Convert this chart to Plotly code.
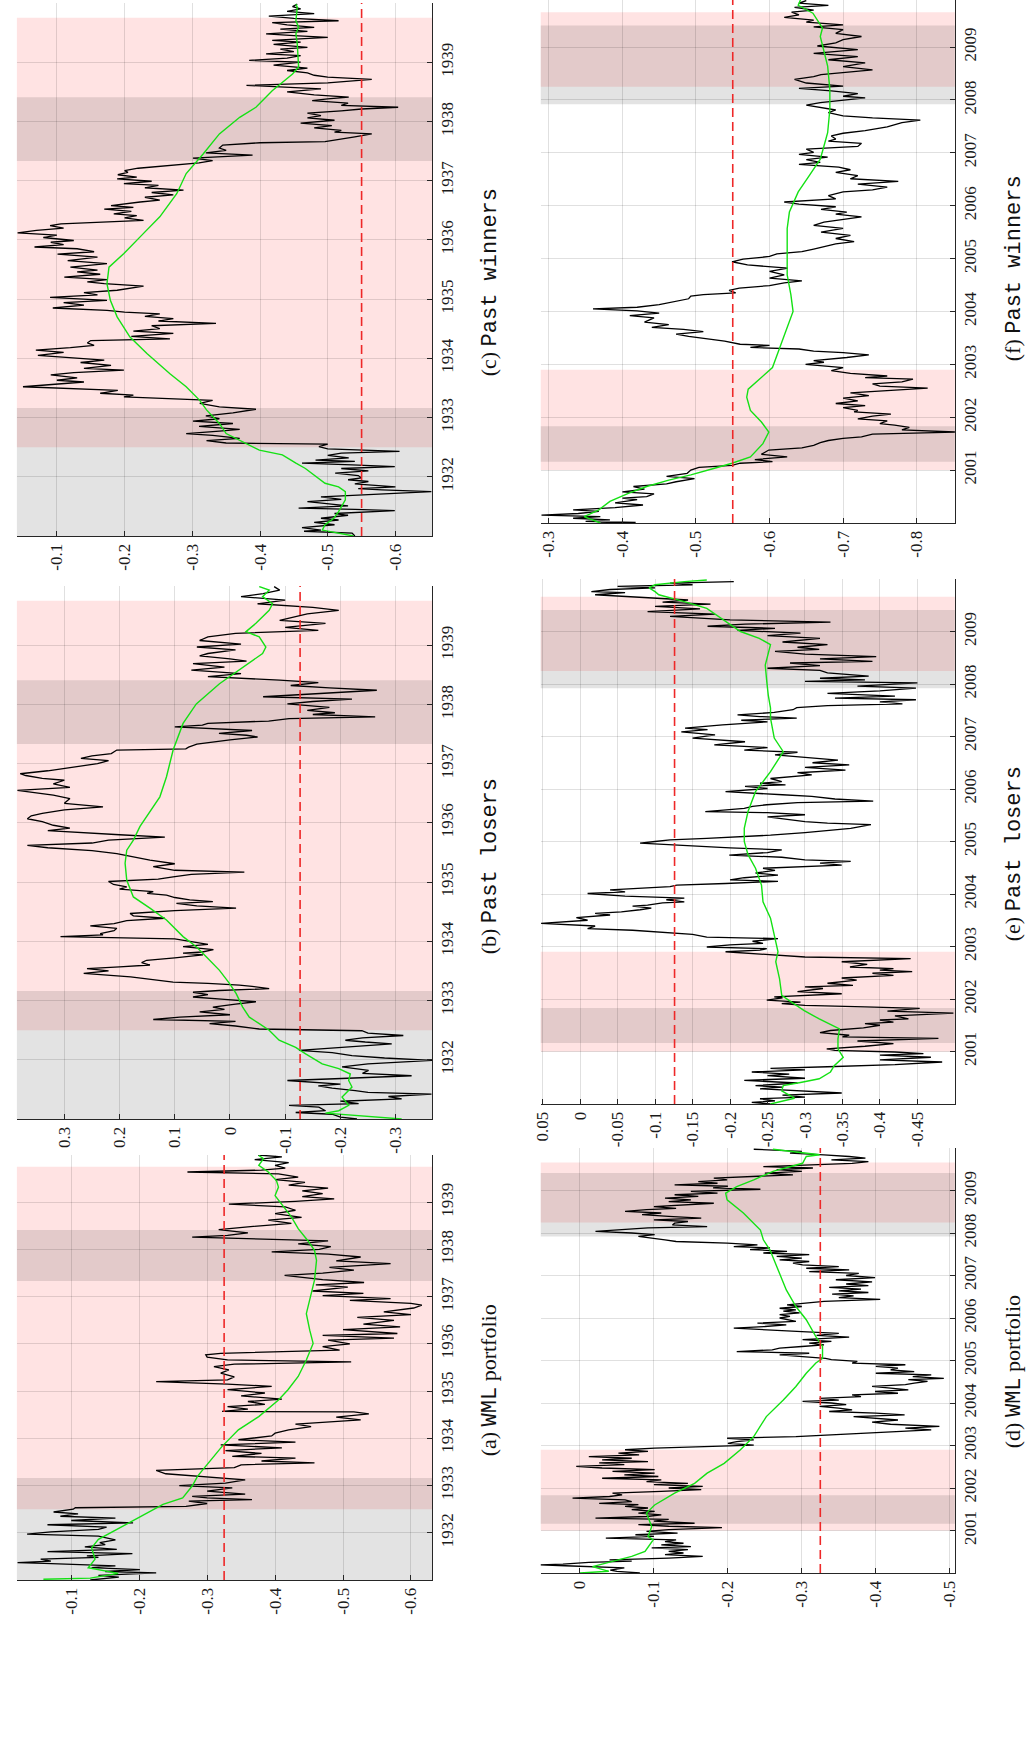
import plotly.graph_objects as go

# ---------------- DATA ----------------
# (year, value) pairs
A_BLACK = [(1931.00,-0.128),(1931.06,-0.170),(1931.10,-0.140),(1931.15,-0.225),(1931.18,-0.150),(1931.22,-0.201),
(1931.26,-0.130),(1931.30,-0.165),(1931.35,-0.060),(1931.37,-0.021),(1931.40,-0.070),(1931.44,-0.055),(1931.48,-0.140),
(1931.51,-0.123),(1931.56,-0.190),(1931.60,-0.065),(1931.65,-0.167),(1931.70,-0.120),(1931.75,-0.150),(1931.79,-0.142),
(1931.85,-0.165),(1931.93,-0.140),(1931.97,-0.035),(1932.02,-0.070),(1932.07,-0.140),(1932.12,-0.152),(1932.17,-0.065),
(1932.21,-0.191),(1932.26,-0.100),(1932.31,-0.165),(1932.35,-0.084),(1932.40,-0.110),(1932.44,-0.074),(1932.50,-0.103),
(1932.53,-0.106),(1932.56,-0.269),(1932.62,-0.300),(1932.67,-0.273),(1932.70,-0.366),(1932.74,-0.300),(1932.77,-0.278),
(1932.82,-0.356),(1932.88,-0.300),(1932.95,-0.337),(1933.00,-0.259),(1933.05,-0.327),(1933.12,-0.356),(1933.18,-0.300),
(1933.25,-0.239),(1933.32,-0.225),(1933.38,-0.340),(1933.44,-0.350),(1933.48,-0.458),(1933.52,-0.380),(1933.58,-0.430),
(1933.62,-0.337),(1933.68,-0.380),(1933.74,-0.327),(1933.80,-0.410),(1933.86,-0.320),(1933.92,-0.430),(1933.97,-0.346),
(1934.05,-0.395),(1934.11,-0.400),(1934.18,-0.420),(1934.25,-0.453),(1934.30,-0.430),(1934.39,-0.526),(1934.45,-0.490),
(1934.52,-0.538),(1934.56,-0.516),(1934.57,-0.322),(1934.62,-0.360),(1934.67,-0.330),(1934.72,-0.385),(1934.78,-0.360),
(1934.83,-0.410),(1934.90,-0.350),(1934.96,-0.385),(1935.03,-0.330),(1935.10,-0.395),(1935.15,-0.330),(1935.20,-0.225),
(1935.24,-0.330),(1935.30,-0.340),(1935.38,-0.320),(1935.45,-0.332),(1935.52,-0.310),(1935.57,-0.340),(1935.62,-0.512),
(1935.66,-0.330),(1935.72,-0.300),(1935.77,-0.298),(1935.80,-0.320),(1935.87,-0.495),(1935.94,-0.470),(1936.00,-0.510),
(1936.08,-0.478),(1936.12,-0.575),(1936.18,-0.470),(1936.22,-0.580),(1936.30,-0.500),(1936.36,-0.584),(1936.42,-0.530),
(1936.50,-0.575),(1936.56,-0.521),(1936.62,-0.600),(1936.68,-0.560),(1936.76,-0.604),(1936.82,-0.616),(1936.86,-0.600),
(1936.92,-0.510),(1936.96,-0.570),(1937.02,-0.470),(1937.07,-0.530),(1937.12,-0.455),(1937.20,-0.507),(1937.25,-0.460),
(1937.30,-0.531),(1937.36,-0.470),(1937.45,-0.414),(1937.50,-0.470),(1937.56,-0.516),(1937.62,-0.480),(1937.70,-0.570),
(1937.76,-0.490),(1937.84,-0.526),(1937.90,-0.478),(1937.95,-0.395),(1938.00,-0.465),(1938.06,-0.482),(1938.12,-0.434),
(1938.18,-0.478),(1938.26,-0.278),(1938.30,-0.330),(1938.35,-0.360),(1938.42,-0.317),(1938.48,-0.360),(1938.55,-0.424),
(1938.62,-0.390),(1938.68,-0.439),(1938.76,-0.400),(1938.83,-0.430),(1938.90,-0.415),(1938.96,-0.332),(1939.02,-0.430),
(1939.07,-0.487),(1939.12,-0.440),(1939.18,-0.470),(1939.24,-0.440),(1939.30,-0.478),(1939.36,-0.420),(1939.42,-0.444),
(1939.48,-0.400),(1939.53,-0.434),(1939.60,-0.405),(1939.64,-0.271),(1939.68,-0.380),(1939.72,-0.415),(1939.78,-0.400),
(1939.84,-0.420),(1939.90,-0.370),(1939.96,-0.410),(1940.00,-0.375)]
A_GREEN = [(1931.015,-0.059),(1931.04,-0.128),(1931.14,-0.169),(1931.26,-0.125),(1931.44,-0.135),(1931.68,-0.130),
(1931.86,-0.140),(1932.07,-0.167),(1932.32,-0.201),(1932.60,-0.235),(1932.74,-0.264),(1932.99,-0.278),(1933.20,-0.286),
(1933.41,-0.298),(1933.83,-0.322),(1934.18,-0.346),(1934.46,-0.376),(1934.81,-0.405),(1935.03,-0.419),(1935.31,-0.434),
(1935.66,-0.446),(1936.01,-0.456),(1936.29,-0.451),(1936.64,-0.446),(1936.93,-0.451),(1937.35,-0.458),(1937.77,-0.461),
(1937.98,-0.458),(1938.19,-0.448),(1938.44,-0.434),(1938.69,-0.424),(1939.04,-0.405),(1939.14,-0.400),(1939.32,-0.405),
(1939.46,-0.402),(1939.64,-0.390),(1939.78,-0.376),(1939.92,-0.383),(1939.99,-0.376)]

B_BLACK = [(1931.00,-0.230),(1931.03,-0.200),(1931.08,-0.185),(1931.11,-0.119),(1931.14,-0.173),(1931.20,-0.161),
(1931.23,-0.107),(1931.26,-0.233),(1931.30,-0.200),(1931.34,-0.311),(1931.38,-0.287),(1931.42,-0.365),(1931.45,-0.250),
(1931.48,-0.227),(1931.52,-0.185),(1931.56,-0.160),(1931.59,-0.200),(1931.65,-0.104),(1931.68,-0.190),(1931.73,-0.329),
(1931.77,-0.240),(1931.82,-0.251),(1931.88,-0.203),(1931.93,-0.250),(1931.99,-0.368),(1932.03,-0.280),(1932.07,-0.221),
(1932.12,-0.185),(1932.16,-0.125),(1932.20,-0.180),(1932.27,-0.293),(1932.30,-0.245),(1932.33,-0.209),(1932.37,-0.240),
(1932.41,-0.314),(1932.45,-0.250),(1932.49,-0.239),(1932.52,-0.053),(1932.57,-0.010),(1932.61,0.037),(1932.65,-0.010),
(1932.68,0.139),(1932.72,0.091),(1932.76,0.000),(1932.81,0.055),(1932.85,0.010),(1932.89,0.031),(1932.94,-0.010),
(1932.98,-0.047),(1933.02,0.010),(1933.06,0.067),(1933.10,0.040),(1933.14,0.067),(1933.17,0.020),(1933.20,-0.071),
(1933.24,-0.040),(1933.26,-0.017),(1933.29,0.040),(1933.31,0.103),(1933.40,0.180),(1933.46,0.265),(1933.50,0.220),
(1933.54,0.259),(1933.57,0.200),(1933.60,0.145),(1933.64,0.160),(1933.68,0.151),(1933.72,0.100),(1933.77,0.049),
(1933.80,0.085),(1933.82,0.050),(1933.86,0.030),(1933.91,0.085),(1933.95,0.040),(1933.99,0.067),(1934.04,0.100),
(1934.08,0.307),(1934.11,0.230),(1934.13,0.235),(1934.18,0.210),(1934.22,0.205),(1934.26,0.253),(1934.30,0.210),
(1934.35,0.187),(1934.39,0.118),(1934.43,0.175),(1934.47,0.181),(1934.52,0.100),(1934.56,-0.011),(1934.60,0.060),
(1934.64,0.097),(1934.67,0.031),(1934.70,0.073),(1934.74,0.100),(1934.78,0.115),(1934.81,0.150),(1934.84,0.139),
(1934.88,0.200),(1934.92,0.187),(1934.96,0.211),(1935.01,0.220),(1935.05,0.130),(1935.09,0.103),(1935.13,0.070),
(1935.17,-0.026),(1935.20,0.100),(1935.26,0.139),(1935.31,0.100),(1935.37,0.145),(1935.42,0.170),(1935.48,0.205),
(1935.53,0.250),(1935.58,0.330),(1935.62,0.367),(1935.66,0.250),(1935.71,0.220),(1935.74,0.150),(1935.76,0.118),
(1935.80,0.200),(1935.87,0.330),(1935.91,0.290),(1935.96,0.320),(1936.02,0.340),(1936.07,0.367),(1936.12,0.360),
(1936.16,0.340),(1936.22,0.300),(1936.27,0.230),(1936.33,0.300),(1936.41,0.290),(1936.47,0.320),(1936.55,0.385),
(1936.60,0.290),(1936.66,0.320),(1936.72,0.300),(1936.75,0.340),(1936.80,0.370),(1936.83,0.380),(1936.88,0.330),
(1936.92,0.300),(1936.96,0.270),(1937.00,0.240),(1937.05,0.220),(1937.09,0.270),(1937.13,0.250),(1937.17,0.215),
(1937.23,0.205),(1937.25,0.080),(1937.28,0.075),(1937.33,0.060),(1937.40,0.000),(1937.45,-0.050),(1937.48,-0.030),
(1937.51,0.020),(1937.56,-0.040),(1937.62,0.100),(1937.65,0.050),(1937.68,0.040),(1937.72,-0.070),(1937.76,-0.107),
(1937.79,-0.263),(1937.83,-0.150),(1937.86,-0.190),(1937.90,-0.140),(1937.95,-0.180),(1938.01,-0.104),(1938.05,-0.150),
(1938.09,-0.221),(1938.13,-0.060),(1938.17,-0.140),(1938.21,-0.200),(1938.24,-0.266),(1938.28,-0.180),(1938.32,-0.110),
(1938.37,-0.160),(1938.41,-0.090),(1938.47,0.040),(1938.52,-0.020),(1938.58,0.070),(1938.63,0.010),(1938.69,0.067),
(1938.73,-0.030),(1938.77,0.000),(1938.82,0.055),(1938.86,0.040),(1938.92,-0.010),(1938.97,0.060),(1939.02,-0.020),
(1939.08,0.055),(1939.14,0.040),(1939.20,-0.010),(1939.25,-0.160),(1939.30,-0.100),(1939.37,-0.173),(1939.42,-0.090),
(1939.48,-0.120),(1939.53,-0.140),(1939.59,-0.197),(1939.64,-0.150),(1939.70,-0.050),(1939.76,-0.100),(1939.82,-0.020),
(1939.87,-0.060),(1939.93,-0.090),(1939.99,-0.080)]
B_GREEN = [(1931.00,-0.311),(1931.06,-0.233),(1931.10,-0.173),(1931.14,-0.197),(1931.23,-0.215),(1931.37,-0.203),
(1931.54,-0.221),(1931.65,-0.215),(1931.76,-0.218),(1931.85,-0.197),(1931.93,-0.167),(1932.10,-0.137),(1932.21,-0.119),
(1932.33,-0.089),(1932.50,-0.071),(1932.61,-0.053),(1932.72,-0.035),(1932.89,-0.023),(1933.12,-0.011),(1933.29,0.001),
(1933.51,0.019),(1933.74,0.043),(1933.91,0.061),(1934.08,0.085),(1934.36,0.115),(1934.56,0.145),(1934.75,0.175),
(1935.03,0.187),(1935.32,0.190),(1935.54,0.187),(1935.71,0.175),(1935.94,0.163),(1936.10,0.151),(1936.44,0.127),
(1936.78,0.115),(1937.23,0.103),(1937.68,0.085),(1938.01,0.061),(1938.35,0.019),(1938.58,-0.017),(1938.86,-0.059),
(1938.97,-0.065),(1939.14,-0.053),(1939.23,-0.029),(1939.37,-0.047),(1939.59,-0.071),(1939.70,-0.077),(1939.82,-0.059),
(1939.93,-0.071),(1939.99,-0.053)]

C_BLACK = [(1931.00,-0.540),(1931.05,-0.536),(1931.08,-0.465),(1931.10,-0.490),(1931.14,-0.462),(1931.19,-0.510),
(1931.23,-0.480),(1931.27,-0.516),(1931.30,-0.490),(1931.35,-0.530),(1931.38,-0.510),(1931.43,-0.599),(1931.45,-0.540),
(1931.47,-0.457),(1931.51,-0.530),(1931.55,-0.500),(1931.58,-0.470),(1931.62,-0.520),(1931.66,-0.490),(1931.70,-0.560),
(1931.75,-0.653),(1931.78,-0.580),(1931.80,-0.545),(1931.83,-0.600),(1931.88,-0.540),(1931.92,-0.560),(1931.95,-0.530),
(1931.98,-0.550),(1932.02,-0.545),(1932.06,-0.511),(1932.10,-0.560),(1932.14,-0.520),(1932.17,-0.599),(1932.20,-0.536),
(1932.23,-0.462),(1932.26,-0.540),(1932.28,-0.482),(1932.32,-0.531),(1932.36,-0.500),(1932.40,-0.520),(1932.43,-0.606),
(1932.47,-0.500),(1932.51,-0.487),(1932.55,-0.500),(1932.57,-0.350),(1932.61,-0.321),(1932.65,-0.370),(1932.70,-0.330),
(1932.73,-0.291),(1932.77,-0.340),(1932.80,-0.370),(1932.85,-0.310),(1932.90,-0.360),(1932.94,-0.301),(1932.98,-0.340),
(1933.03,-0.320),(1933.08,-0.360),(1933.14,-0.394),(1933.18,-0.340),(1933.24,-0.311),(1933.29,-0.330),(1933.35,-0.199),
(1933.38,-0.213),(1933.41,-0.164),(1933.46,-0.190),(1933.52,-0.050),(1933.56,-0.100),(1933.60,-0.140),(1933.63,-0.100),
(1933.67,-0.130),(1933.72,-0.091),(1933.76,-0.125),(1933.80,-0.199),(1933.83,-0.140),(1933.88,-0.180),(1933.93,-0.135),
(1933.97,-0.170),(1934.01,-0.120),(1934.05,-0.072),(1934.10,-0.110),(1934.14,-0.069),(1934.18,-0.120),(1934.22,-0.155),
(1934.26,-0.145),(1934.30,-0.150),(1934.33,-0.267),(1934.37,-0.210),(1934.42,-0.272),(1934.46,-0.213),(1934.50,-0.252),
(1934.55,-0.240),(1934.59,-0.335),(1934.63,-0.250),(1934.67,-0.272),(1934.71,-0.230),(1934.75,-0.252),(1934.78,-0.200),
(1934.81,-0.174),(1934.85,-0.094),(1934.90,-0.140),(1934.94,-0.110),(1934.98,-0.174),(1935.03,-0.090),(1935.07,-0.160),
(1935.11,-0.140),(1935.15,-0.189),(1935.22,-0.228),(1935.26,-0.170),(1935.29,-0.145),(1935.33,-0.174),(1935.37,-0.111),
(1935.42,-0.164),(1935.46,-0.130),(1935.49,-0.160),(1935.54,-0.120),(1935.60,-0.174),(1935.65,-0.116),(1935.71,-0.160),
(1935.76,-0.101),(1935.80,-0.155),(1935.85,-0.130),(1935.88,-0.067),(1935.92,-0.110),(1935.96,-0.091),(1935.99,-0.125),
(1936.04,-0.080),(1936.08,-0.100),(1936.12,-0.042),(1936.16,-0.070),(1936.20,-0.110),(1936.24,-0.090),(1936.27,-0.106),
(1936.30,-0.160),(1936.33,-0.228),(1936.37,-0.200),(1936.41,-0.218),(1936.44,-0.184),(1936.48,-0.210),(1936.52,-0.170),
(1936.55,-0.213),(1936.58,-0.180),(1936.61,-0.199),(1936.64,-0.223),(1936.67,-0.252),(1936.72,-0.230),(1936.76,-0.272),
(1936.80,-0.240),(1936.84,-0.287),(1936.88,-0.230),(1936.92,-0.250),(1936.95,-0.199),(1936.99,-0.240),(1937.03,-0.189),
(1937.06,-0.218),(1937.10,-0.190),(1937.14,-0.205),(1937.17,-0.200),(1937.21,-0.220),(1937.26,-0.267),(1937.30,-0.310),
(1937.34,-0.330),(1937.38,-0.301),(1937.43,-0.389),(1937.47,-0.320),(1937.51,-0.350),(1937.55,-0.340),(1937.60,-0.345),
(1937.64,-0.400),(1937.66,-0.496),(1937.70,-0.520),(1937.74,-0.540),(1937.79,-0.565),(1937.82,-0.510),(1937.85,-0.520),
(1937.89,-0.480),(1937.93,-0.506),(1937.97,-0.460),(1938.02,-0.510),(1938.06,-0.470),(1938.10,-0.490),(1938.14,-0.470),
(1938.18,-0.520),(1938.21,-0.550),(1938.24,-0.604),(1938.27,-0.520),(1938.31,-0.530),(1938.35,-0.477),(1938.38,-0.500),
(1938.41,-0.531),(1938.45,-0.480),(1938.50,-0.440),(1938.55,-0.490),(1938.58,-0.428),(1938.61,-0.380),(1938.65,-0.500),
(1938.69,-0.550),(1938.71,-0.565),(1938.75,-0.500),(1938.78,-0.480),(1938.82,-0.470),(1938.86,-0.440),(1938.90,-0.470),
(1938.95,-0.420),(1939.00,-0.460),(1939.03,-0.384),(1939.07,-0.440),(1939.11,-0.460),(1939.14,-0.409),(1939.18,-0.450),
(1939.22,-0.430),(1939.25,-0.470),(1939.30,-0.420),(1939.34,-0.460),(1939.37,-0.418),(1939.42,-0.500),(1939.45,-0.450),
(1939.48,-0.409),(1939.52,-0.470),(1939.56,-0.430),(1939.59,-0.480),(1939.63,-0.440),(1939.67,-0.418),(1939.70,-0.516),
(1939.74,-0.450),(1939.78,-0.413),(1939.82,-0.480),(1939.86,-0.440),(1939.90,-0.460),(1939.94,-0.448),(1939.98,-0.455)]
C_GREEN = [(1931.00,-0.538),(1931.10,-0.492),(1931.19,-0.496),(1931.30,-0.509),(1931.41,-0.516),(1931.61,-0.526),
(1931.75,-0.526),(1931.83,-0.516),(1931.89,-0.496),(1932.14,-0.467),(1932.23,-0.453),(1932.37,-0.433),(1932.45,-0.399),
(1932.62,-0.370),(1932.73,-0.350),(1932.90,-0.340),(1933.13,-0.321),(1933.29,-0.311),(1933.52,-0.291),(1933.74,-0.267),
(1934.08,-0.233),(1934.36,-0.208),(1934.70,-0.189),(1934.98,-0.179),(1935.26,-0.174),(1935.54,-0.177),(1935.77,-0.199),
(1936.11,-0.228),(1936.39,-0.252),(1936.78,-0.277),(1937.12,-0.291),(1937.45,-0.316),(1937.79,-0.340),(1938.07,-0.370),
(1938.24,-0.394),(1938.52,-0.418),(1938.80,-0.448),(1938.92,-0.457),(1939.31,-0.455),(1939.48,-0.453),(1939.59,-0.457),
(1939.70,-0.453),(1939.93,-0.455),(1939.98,-0.453)]

D_BLACK = [(2000.00,-0.081),(2000.04,-0.050),(2000.07,-0.041),(2000.12,-0.060),(2000.17,0.020),(2000.19,0.054),
(2000.21,0.023),(2000.25,-0.012),(2000.28,-0.070),(2000.31,-0.040),(2000.35,-0.120),(2000.39,-0.166),(2000.43,-0.115),
(2000.47,-0.140),(2000.51,-0.120),(2000.55,-0.146),(2000.59,-0.097),(2000.62,-0.150),(2000.66,-0.110),(2000.70,-0.140),
(2000.74,-0.115),(2000.78,-0.130),(2000.82,-0.035),(2000.86,-0.100),(2000.90,-0.075),(2000.94,-0.132),(2000.98,-0.090),
(2001.02,-0.120),(2001.07,-0.192),(2001.10,-0.120),(2001.14,-0.079),(2001.17,-0.155),(2001.22,-0.100),(2001.26,-0.120),
(2001.29,-0.021),(2001.33,-0.090),(2001.37,-0.110),(2001.41,-0.079),(2001.45,-0.101),(2001.49,-0.070),(2001.53,-0.092),
(2001.57,-0.061),(2001.61,-0.079),(2001.64,-0.026),(2001.68,-0.070),(2001.72,-0.061),(2001.76,0.010),(2001.80,-0.040),
(2001.84,-0.057),(2001.88,-0.044),(2001.92,-0.110),(2001.96,-0.164),(2002.00,-0.120),(2002.04,-0.166),(2002.08,-0.100),
(2002.11,-0.146),(2002.15,-0.090),(2002.19,-0.110),(2002.23,-0.030),(2002.27,-0.106),(2002.31,-0.060),(2002.35,-0.101),
(2002.39,-0.044),(2002.43,-0.101),(2002.47,-0.030),(2002.51,0.005),(2002.55,-0.060),(2002.59,-0.026),(2002.62,-0.092),
(2002.66,-0.030),(2002.70,-0.070),(2002.74,-0.012),(2002.78,-0.080),(2002.82,-0.052),(2002.86,-0.092),(2002.90,-0.061),
(2002.94,-0.101),(2002.98,-0.190),(2003.01,-0.235),(2003.05,-0.200),(2003.09,-0.212),(2003.13,-0.235),(2003.17,-0.199),
(2003.21,-0.292),(2003.27,-0.368),(2003.32,-0.420),(2003.37,-0.475),(2003.41,-0.440),(2003.45,-0.486),(2003.50,-0.420),
(2003.55,-0.395),(2003.60,-0.430),(2003.64,-0.400),(2003.68,-0.370),(2003.72,-0.439),(2003.76,-0.400),(2003.80,-0.337),
(2003.84,-0.368),(2003.88,-0.350),(2003.92,-0.324),(2003.96,-0.360),(2004.00,-0.340),(2004.04,-0.301),(2004.07,-0.350),
(2004.11,-0.324),(2004.15,-0.380),(2004.19,-0.368),(2004.23,-0.430),(2004.27,-0.399),(2004.31,-0.444),(2004.35,-0.420),
(2004.39,-0.395),(2004.43,-0.440),(2004.47,-0.452),(2004.51,-0.470),(2004.55,-0.444),(2004.58,-0.492),(2004.62,-0.450),
(2004.66,-0.475),(2004.70,-0.400),(2004.74,-0.452),(2004.78,-0.420),(2004.82,-0.430),(2004.86,-0.400),(2004.90,-0.440),
(2004.94,-0.368),(2004.98,-0.375),(2005.02,-0.340),(2005.05,-0.332),(2005.09,-0.300),(2005.13,-0.270),(2005.17,-0.310),
(2005.21,-0.212),(2005.25,-0.260),(2005.29,-0.270),(2005.33,-0.300),(2005.37,-0.330),(2005.41,-0.310),(2005.45,-0.340),
(2005.49,-0.301),(2005.52,-0.340),(2005.55,-0.364),(2005.59,-0.320),(2005.64,-0.350),(2005.68,-0.300),(2005.72,-0.248),
(2005.76,-0.208),(2005.80,-0.250),(2005.84,-0.279),(2005.88,-0.240),(2005.92,-0.292),(2006.00,-0.270),(2006.04,-0.284),
(2006.08,-0.270),(2006.12,-0.297),(2006.16,-0.275),(2006.19,-0.292),(2006.23,-0.270),(2006.27,-0.300),(2006.31,-0.280),
(2006.35,-0.310),(2006.39,-0.330),(2006.44,-0.406),(2006.48,-0.350),(2006.52,-0.370),(2006.56,-0.341),(2006.60,-0.390),
(2006.64,-0.350),(2006.68,-0.380),(2006.72,-0.337),(2006.76,-0.390),(2006.80,-0.360),(2006.85,-0.395),(2006.90,-0.346),
(2006.95,-0.399),(2007.00,-0.360),(2007.05,-0.377),(2007.09,-0.310),(2007.13,-0.364),(2007.17,-0.306),(2007.21,-0.350),
(2007.25,-0.301),(2007.29,-0.288),(2007.33,-0.310),(2007.37,-0.270),(2007.41,-0.300),(2007.45,-0.266),(2007.49,-0.310),
(2007.53,-0.248),(2007.57,-0.280),(2007.61,-0.230),(2007.65,-0.257),(2007.68,-0.208),(2007.72,-0.240),(2007.76,-0.199),
(2007.80,-0.130),(2007.84,-0.115),(2007.88,-0.092),(2007.92,-0.079),(2007.96,-0.101),(2008.00,-0.070),(2008.04,-0.021),
(2008.08,-0.060),(2008.12,-0.092),(2008.15,-0.172),(2008.19,-0.125),(2008.23,-0.128),(2008.27,-0.146),(2008.31,-0.100),
(2008.35,-0.164),(2008.39,-0.120),(2008.43,-0.084),(2008.47,-0.110),(2008.51,-0.061),(2008.55,-0.090),(2008.58,-0.130),
(2008.62,-0.100),(2008.66,-0.150),(2008.70,-0.181),(2008.74,-0.120),(2008.78,-0.150),(2008.82,-0.115),(2008.86,-0.160),
(2008.90,-0.128),(2008.94,-0.186),(2008.98,-0.150),(2009.03,-0.244),(2009.06,-0.180),(2009.10,-0.200),(2009.13,-0.128),
(2009.17,-0.186),(2009.21,-0.160),(2009.25,-0.199),(2009.29,-0.181),(2009.33,-0.230),(2009.37,-0.288),(2009.41,-0.250),
(2009.45,-0.300),(2009.49,-0.266),(2009.53,-0.315),(2009.56,-0.248),(2009.60,-0.320),(2009.64,-0.368),(2009.68,-0.390),
(2009.72,-0.340),(2009.76,-0.386),(2009.80,-0.364),(2009.84,-0.330),(2009.88,-0.284),(2009.92,-0.300),(2009.97,-0.235)]
D_GREEN = [(2000.00,0.000),(2000.04,-0.039),(2000.15,-0.017),(2000.23,-0.035),(2000.39,-0.070),(2000.51,-0.088),
(2000.62,-0.092),(2000.78,-0.099),(2000.86,-0.092),(2000.98,-0.095),(2001.09,-0.097),(2001.41,-0.090),(2001.60,-0.101),
(2001.88,-0.128),(2002.11,-0.155),(2002.35,-0.172),(2002.58,-0.195),(2002.90,-0.217),(2003.21,-0.235),(2003.68,-0.252),
(2004.07,-0.275),(2004.39,-0.292),(2004.70,-0.306),(2004.94,-0.319),(2005.05,-0.328),(2005.33,-0.328),(2005.56,-0.319),
(2005.96,-0.306),(2006.27,-0.292),(2006.66,-0.279),(2007.21,-0.266),(2007.60,-0.257),(2007.84,-0.248),(2008.07,-0.244),
(2008.47,-0.221),(2008.78,-0.199),(2008.94,-0.197),(2009.09,-0.212),(2009.25,-0.235),(2009.45,-0.261),(2009.64,-0.301),
(2009.80,-0.306),(2009.84,-0.324),(2009.94,-0.279),(2009.97,-0.261)]

E_BLACK = [(2000.00,-0.254),(2000.03,-0.229),(2000.06,-0.260),(2000.10,-0.240),(2000.13,-0.300),(2000.17,-0.270),
(2000.21,-0.349),(2000.25,-0.290),(2000.29,-0.240),(2000.32,-0.270),(2000.35,-0.234),(2000.40,-0.290),(2000.45,-0.219),
(2000.49,-0.300),(2000.54,-0.250),(2000.57,-0.279),(2000.61,-0.229),(2000.65,-0.300),(2000.68,-0.254),(2000.71,-0.330),
(2000.75,-0.420),(2000.80,-0.483),(2000.84,-0.400),(2000.89,-0.468),(2000.93,-0.400),(2000.96,-0.458),(2000.99,-0.420),
(2001.02,-0.340),(2001.05,-0.329),(2001.10,-0.380),(2001.15,-0.418),(2001.20,-0.370),(2001.25,-0.478),(2001.28,-0.350),
(2001.31,-0.359),(2001.36,-0.320),(2001.40,-0.334),(2001.45,-0.378),(2001.50,-0.400),(2001.53,-0.380),(2001.56,-0.418),
(2001.60,-0.400),(2001.62,-0.438),(2001.68,-0.420),(2001.73,-0.498),(2001.77,-0.410),(2001.82,-0.453),(2001.85,-0.380),
(2001.88,-0.300),(2001.91,-0.269),(2001.94,-0.294),(2001.98,-0.249),(2002.02,-0.270),(2002.04,-0.259),(2002.07,-0.300),
(2002.10,-0.349),(2002.14,-0.290),(2002.20,-0.324),(2002.23,-0.300),(2002.26,-0.364),(2002.30,-0.330),(2002.36,-0.369),
(2002.40,-0.349),(2002.45,-0.418),(2002.49,-0.390),(2002.52,-0.443),(2002.55,-0.400),(2002.58,-0.418),(2002.61,-0.360),
(2002.66,-0.383),(2002.71,-0.349),(2002.74,-0.400),(2002.77,-0.441),(2002.80,-0.300),(2002.83,-0.269),(2002.87,-0.240),
(2002.90,-0.194),(2002.93,-0.240),(2002.96,-0.249),(2002.99,-0.169),(2003.03,-0.200),(2003.06,-0.244),(2003.10,-0.230),
(2003.15,-0.264),(2003.18,-0.169),(2003.23,-0.150),(2003.28,-0.100),(2003.31,-0.070),(2003.34,-0.010),(2003.39,-0.020),
(2003.44,0.052),(2003.47,0.020),(2003.50,-0.010),(2003.55,0.005),(2003.60,-0.040),(2003.63,-0.020),(2003.66,-0.055),
(2003.70,-0.080),(2003.73,-0.095),(2003.77,-0.070),(2003.79,-0.090),(2003.83,-0.110),(2003.85,-0.139),(2003.89,-0.115),
(2003.92,-0.139),(2003.96,-0.060),(2004.01,-0.010),(2004.04,-0.060),(2004.08,-0.040),(2004.14,-0.120),(2004.17,-0.129),
(2004.20,-0.194),(2004.24,-0.264),(2004.27,-0.200),(2004.31,-0.219),(2004.36,-0.264),(2004.40,-0.234),(2004.45,-0.260),
(2004.49,-0.244),(2004.55,-0.349),(2004.59,-0.320),(2004.62,-0.361),(2004.65,-0.300),(2004.70,-0.269),(2004.74,-0.199),
(2004.79,-0.250),(2004.84,-0.269),(2004.88,-0.200),(2004.93,-0.129),(2004.97,-0.080),(2005.00,-0.100),(2005.03,-0.120),
(2005.06,-0.169),(2005.09,-0.219),(2005.12,-0.254),(2005.17,-0.300),(2005.22,-0.340),(2005.25,-0.361),(2005.32,-0.388),
(2005.35,-0.330),(2005.38,-0.300),(2005.42,-0.279),(2005.47,-0.250),(2005.51,-0.300),(2005.55,-0.250),(2005.57,-0.167),
(2005.61,-0.200),(2005.63,-0.219),(2005.67,-0.230),(2005.70,-0.249),(2005.74,-0.290),(2005.77,-0.391),(2005.81,-0.340),
(2005.86,-0.309),(2005.89,-0.270),(2005.95,-0.194),(2006.01,-0.250),(2006.05,-0.220),(2006.08,-0.274),(2006.11,-0.240),
(2006.14,-0.269),(2006.20,-0.254),(2006.27,-0.309),(2006.31,-0.290),(2006.36,-0.354),(2006.41,-0.300),(2006.46,-0.359),
(2006.50,-0.310),(2006.55,-0.344),(2006.60,-0.300),(2006.65,-0.260),(2006.70,-0.290),(2006.74,-0.219),(2006.79,-0.250),
(2006.84,-0.179),(2006.90,-0.220),(2006.97,-0.150),(2007.03,-0.180),(2007.09,-0.135),(2007.13,-0.170),(2007.16,-0.140),
(2007.22,-0.190),(2007.28,-0.250),(2007.31,-0.215),(2007.35,-0.289),(2007.38,-0.240),(2007.41,-0.210),(2007.46,-0.259),
(2007.51,-0.284),(2007.55,-0.289),(2007.59,-0.330),(2007.62,-0.430),(2007.66,-0.400),(2007.70,-0.448),(2007.73,-0.340),
(2007.77,-0.420),(2007.82,-0.330),(2007.87,-0.400),(2007.92,-0.448),(2007.96,-0.370),(2008.02,-0.450),(2008.05,-0.300),
(2008.08,-0.380),(2008.11,-0.320),(2008.15,-0.385),(2008.21,-0.330),(2008.26,-0.320),(2008.30,-0.250),(2008.35,-0.320),
(2008.40,-0.280),(2008.43,-0.390),(2008.48,-0.320),(2008.52,-0.395),(2008.57,-0.300),(2008.62,-0.260),(2008.66,-0.319),
(2008.70,-0.290),(2008.75,-0.330),(2008.80,-0.270),(2008.87,-0.320),(2008.92,-0.250),(2008.97,-0.294),(2009.02,-0.210),
(2009.06,-0.260),(2009.10,-0.170),(2009.14,-0.220),(2009.18,-0.334),(2009.22,-0.200),(2009.29,-0.120),(2009.33,-0.180),
(2009.38,-0.090),(2009.43,-0.160),(2009.48,-0.100),(2009.52,-0.174),(2009.56,-0.110),(2009.60,-0.144),(2009.66,-0.060),
(2009.70,-0.020),(2009.74,-0.060),(2009.76,-0.015),(2009.80,-0.040),(2009.83,-0.100),(2009.86,-0.050),(2009.89,-0.150),
(2009.92,-0.120),(2009.95,-0.205)]
E_GREEN = [(2000.00,-0.254),(2000.11,-0.286),(2000.25,-0.269),(2000.35,-0.271),(2000.41,-0.294),(2000.48,-0.319),
(2000.61,-0.334),(2000.73,-0.339),(2000.89,-0.351),(2001.05,-0.344),(2001.24,-0.344),(2001.43,-0.346),(2001.62,-0.319),
(2001.78,-0.299),(2001.97,-0.279),(2002.07,-0.269),(2002.39,-0.266),(2002.71,-0.261),(2002.90,-0.264),(2003.22,-0.259),
(2003.54,-0.254),(2003.85,-0.244),(2004.17,-0.242),(2004.49,-0.234),(2004.75,-0.224),(2005.00,-0.219),(2005.25,-0.219),
(2005.57,-0.224),(2005.95,-0.234),(2006.33,-0.254),(2006.71,-0.271),(2006.97,-0.259),(2007.35,-0.254),(2007.54,-0.254),
(2007.79,-0.251),(2008.05,-0.249),(2008.36,-0.247),(2008.75,-0.254),(2008.87,-0.239),(2009.00,-0.214),(2009.19,-0.194),
(2009.44,-0.169),(2009.57,-0.139),(2009.70,-0.105),(2009.76,-0.100),(2009.83,-0.092),(2009.89,-0.100),(2009.95,-0.139),
(2009.98,-0.169)]

F_BLACK = [(2000.00,-0.370),(2000.01,-0.418),(2000.03,-0.350),(2000.06,-0.383),(2000.09,-0.333),(2000.12,-0.370),
(2000.15,-0.290),(2000.18,-0.340),(2000.22,-0.368),(2000.25,-0.333),(2000.29,-0.390),(2000.34,-0.428),(2000.38,-0.390),
(2000.44,-0.420),(2000.47,-0.400),(2000.50,-0.433),(2000.55,-0.443),(2000.59,-0.400),(2000.64,-0.430),(2000.69,-0.415),
(2000.74,-0.460),(2000.78,-0.473),(2000.84,-0.498),(2000.88,-0.460),(2000.94,-0.488),(2001.00,-0.493),(2001.05,-0.504),
(2001.09,-0.549),(2001.13,-0.560),(2001.16,-0.604),(2001.20,-0.580),(2001.25,-0.624),(2001.30,-0.589),(2001.38,-0.599),
(2001.42,-0.644),(2001.47,-0.660),(2001.52,-0.669),(2001.56,-0.680),(2001.60,-0.700),(2001.63,-0.725),(2001.68,-0.740),
(2001.72,-0.853),(2001.76,-0.780),(2001.81,-0.790),(2001.85,-0.770),(2001.88,-0.750),(2001.93,-0.760),(2001.97,-0.720),
(2002.02,-0.740),(2002.06,-0.765),(2002.10,-0.715),(2002.13,-0.720),(2002.18,-0.700),(2002.22,-0.730),(2002.26,-0.690),
(2002.31,-0.720),(2002.36,-0.700),(2002.41,-0.735),(2002.46,-0.710),(2002.50,-0.765),(2002.55,-0.815),(2002.59,-0.750),
(2002.63,-0.740),(2002.67,-0.780),(2002.72,-0.795),(2002.75,-0.730),(2002.78,-0.760),(2002.83,-0.710),(2002.88,-0.684),
(2002.94,-0.700),(2003.00,-0.649),(2003.04,-0.674),(2003.07,-0.660),(2003.13,-0.705),(2003.18,-0.735),(2003.22,-0.700),
(2003.25,-0.660),(2003.29,-0.640),(2003.32,-0.574),(2003.36,-0.600),(2003.38,-0.560),(2003.44,-0.539),(2003.48,-0.514),
(2003.53,-0.490),(2003.57,-0.473),(2003.62,-0.510),(2003.66,-0.483),(2003.70,-0.440),(2003.75,-0.463),(2003.80,-0.430),
(2003.88,-0.443),(2003.92,-0.410),(2003.97,-0.450),(2004.01,-0.420),(2004.05,-0.360),(2004.08,-0.420),(2004.13,-0.450),
(2004.19,-0.473),(2004.24,-0.490),(2004.29,-0.493),(2004.32,-0.510),(2004.35,-0.554),(2004.40,-0.545),(2004.44,-0.559),
(2004.49,-0.600),(2004.54,-0.620),(2004.58,-0.644),(2004.63,-0.600),(2004.69,-0.620),(2004.76,-0.600),(2004.82,-0.625),
(2004.88,-0.570),(2004.94,-0.549),(2004.99,-0.564),(2005.04,-0.600),(2005.09,-0.610),(2005.13,-0.644),(2005.18,-0.660),
(2005.23,-0.674),(2005.28,-0.690),(2005.32,-0.715),(2005.38,-0.690),(2005.44,-0.710),(2005.50,-0.670),(2005.57,-0.700),
(2005.63,-0.660),(2005.69,-0.674),(2005.74,-0.700),(2005.79,-0.725),(2005.84,-0.690),(2005.88,-0.705),(2005.93,-0.670),
(2005.98,-0.690),(2006.03,-0.640),(2006.07,-0.620),(2006.13,-0.690),(2006.19,-0.680),(2006.26,-0.700),(2006.30,-0.740),
(2006.35,-0.760),(2006.41,-0.720),(2006.46,-0.775),(2006.51,-0.710),(2006.57,-0.720),(2006.63,-0.690),(2006.68,-0.710),
(2006.73,-0.694),(2006.78,-0.640),(2006.82,-0.669),(2006.87,-0.650),(2006.92,-0.679),(2006.97,-0.640),(2007.01,-0.660),
(2007.07,-0.650),(2007.12,-0.720),(2007.18,-0.725),(2007.22,-0.680),(2007.26,-0.690),(2007.32,-0.684),(2007.37,-0.700),
(2007.42,-0.730),(2007.49,-0.760),(2007.57,-0.780),(2007.62,-0.805),(2007.66,-0.740),(2007.70,-0.700),(2007.76,-0.680),
(2007.81,-0.690),(2007.85,-0.674),(2007.90,-0.650),(2007.95,-0.669),(2008.01,-0.710),(2008.04,-0.730),(2008.07,-0.700),
(2008.12,-0.720),(2008.17,-0.684),(2008.22,-0.640),(2008.26,-0.700),(2008.32,-0.650),(2008.39,-0.634),(2008.44,-0.660),
(2008.48,-0.670),(2008.53,-0.710),(2008.57,-0.740),(2008.63,-0.700),(2008.70,-0.730),(2008.76,-0.680),(2008.82,-0.720),
(2008.88,-0.660),(2008.95,-0.720),(2009.02,-0.665),(2009.08,-0.690),(2009.14,-0.700),(2009.20,-0.725),(2009.26,-0.690),
(2009.33,-0.700),(2009.38,-0.660),(2009.42,-0.700),(2009.47,-0.650),(2009.51,-0.660),(2009.56,-0.620),(2009.61,-0.640),
(2009.66,-0.630),(2009.70,-0.660),(2009.75,-0.634),(2009.79,-0.680),(2009.83,-0.640),(2009.88,-0.650)]
F_GREEN = [(2000.00,-0.370),(2000.12,-0.348),(2000.25,-0.368),(2000.41,-0.383),(2000.56,-0.408),(2000.69,-0.433),
(2000.81,-0.463),(2000.91,-0.493),(2001.03,-0.524),(2001.13,-0.549),(2001.25,-0.574),(2001.50,-0.591),(2001.72,-0.599),
(2001.91,-0.589),(2002.13,-0.574),(2002.38,-0.569),(2002.53,-0.571),(2002.69,-0.584),(2002.94,-0.604),(2003.32,-0.614),
(2003.69,-0.624),(2004.00,-0.632),(2004.32,-0.629),(2004.69,-0.624),(2005.13,-0.624),(2005.57,-0.624),(2005.88,-0.627),
(2006.26,-0.639),(2006.57,-0.654),(2006.88,-0.669),(2007.13,-0.674),(2007.38,-0.679),(2007.82,-0.682),(2008.20,-0.682),
(2008.64,-0.679),(2008.95,-0.674),(2009.20,-0.669),(2009.36,-0.672),(2009.64,-0.659),(2009.79,-0.639),(2009.89,-0.642)]

# thresholds (dashed red lines)
A_THR, B_THR, C_THR = -0.325, -0.127, -0.55
D_THR, E_THR, F_THR = -0.325, -0.126, -0.55

# shaded periods (years)
GREY_30S = [(1931.0, 1933.16), (1937.33, 1938.41)]
PINK_30S = [(1932.5, 1939.75)]
GREY_00S = [(2001.16, 2001.83), (2007.92, 2009.41)]
PINK_00S = [(2001.0, 2002.9), (2008.25, 2009.66)]

YEARS_30S = [1932, 1933, 1934, 1935, 1936, 1937, 1938, 1939]
YEARS_00S = [2001, 2002, 2003, 2004, 2005, 2006, 2007, 2008, 2009]

A_TICKS = [-0.1, -0.2, -0.3, -0.4, -0.5, -0.6]
B_TICKS = [0.3, 0.2, 0.1, 0, -0.1, -0.2, -0.3]
C_TICKS = [-0.1, -0.2, -0.3, -0.4, -0.5, -0.6]
D_TICKS = [0, -0.1, -0.2, -0.3, -0.4, -0.5]
E_TICKS = [0.05, 0, -0.05, -0.1, -0.15, -0.2, -0.25, -0.3, -0.35, -0.4, -0.45]
F_TICKS = [-0.3, -0.4, -0.5, -0.6, -0.7, -0.8]

MONO = "font-family:'Liberation Mono'"
CAPTIONS = {
    'a': "(a) <span style=\"%s\">WML</span> portfolio" % MONO,
    'b': "(b) <span style=\"%s\">Past losers</span>" % MONO,
    'c': "(c) <span style=\"%s\">Past winners</span>" % MONO,
    'd': "(d) <span style=\"%s\">WML</span> portfolio" % MONO,
    'e': "(e) <span style=\"%s\">Past losers</span>" % MONO,
    'f': "(f) <span style=\"%s\">Past winners</span>" % MONO,
}

# ---------------- LAYOUT GEOMETRY (page pixels) ----------------
W, H = 1036, 1755
def fx(p): return p / W
def fy(p): return 1 - p / H

LEFT_X = (9, 429)
RIGHT_X = (539, 958)

panels = [
    dict(k='c', black=C_BLACK, green=C_GREEN, thr=C_THR, xr=[-0.041, -0.654], yr=[1931, 1940], ticks=C_TICKS,
         years=YEARS_30S, grey=GREY_30S, pink=PINK_30S, xd=LEFT_X, yd=(3, 536), capx=487, capy=282),
    dict(k='b', black=B_BLACK, green=B_GREEN, thr=B_THR, xr=[0.386, -0.366], yr=[1931, 1940], ticks=B_TICKS,
         years=YEARS_30S, grey=GREY_30S, pink=PINK_30S, xd=LEFT_X, yd=(586, 1119), capx=487, capy=866),
    dict(k='a', black=A_BLACK, green=A_GREEN, thr=A_THR, xr=[-0.020, -0.631], yr=[1931, 1940], ticks=A_TICKS,
         years=YEARS_30S, grey=GREY_30S, pink=PINK_30S, xd=LEFT_X, yd=(1155, 1580), capx=487, capy=1380),
    dict(k='f', black=F_BLACK, green=F_GREEN, thr=F_THR, xr=[-0.289, -0.852], yr=[2000, 2009.89], ticks=F_TICKS,
         years=YEARS_00S, grey=GREY_00S, pink=PINK_00S, xd=RIGHT_X, yd=(0, 523), capx=1017, capy=268),
    dict(k='e', black=E_BLACK, green=E_GREEN, thr=E_THR, xr=[0.0525, -0.50], yr=[2000, 2010], ticks=E_TICKS,
         years=YEARS_00S, grey=GREY_00S, pink=PINK_00S, xd=RIGHT_X, yd=(579, 1104), capx=1017, capy=854),
    dict(k='d', black=D_BLACK, green=D_GREEN, thr=D_THR, xr=[0.053, -0.507], yr=[2000, 2010], ticks=D_TICKS,
         years=YEARS_00S, grey=GREY_00S, pink=PINK_00S, xd=RIGHT_X, yd=(1148, 1573), capx=1017, capy=1372),
]

def fmt(v):
    if abs(v) < 1e-12:
        return "0"
    return ("%.2f" % v).rstrip('0')

fig = go.Figure()
shapes = []
annotations = []
layout_axes = {}
AX = '#262626'
GRID = 'rgba(0,0,0,0.12)'
TFONT = dict(family='Liberation Serif', size=17, color='#1a1a1a')

for i, p in enumerate(panels, start=1):
    xa = 'x' if i == 1 else 'x%d' % i
    ya = 'y' if i == 1 else 'y%d' % i
    t_b, v_b = zip(*p['black'])
    t_g, v_g = zip(*p['green'])
    fig.add_trace(go.Scatter(x=v_b, y=t_b, mode='lines', line=dict(color='black', width=1.3),
                             xaxis=xa, yaxis=ya, showlegend=False, hoverinfo='skip'))
    fig.add_trace(go.Scatter(x=v_g, y=t_g, mode='lines', line=dict(color='rgb(20,225,20)', width=1.4),
                             xaxis=xa, yaxis=ya, showlegend=False, hoverinfo='skip'))
    fig.add_trace(go.Scatter(x=[p['thr'], p['thr']], y=[p['yr'][0], p['yr'][1]], mode='lines',
                             line=dict(color='rgb(238,40,40)', width=1.6, dash='9px,5px'),
                             xaxis=xa, yaxis=ya, showlegend=False, hoverinfo='skip'))
    for (a, b) in p['pink']:
        shapes.append(dict(type='rect', xref=xa + ' domain', yref=ya, x0=0, x1=1, y0=a, y1=b,
                           fillcolor='rgba(255,0,0,0.11)', line=dict(width=0), layer='below'))
    for (a, b) in p['grey']:
        shapes.append(dict(type='rect', xref=xa + ' domain', yref=ya, x0=0, x1=1,
                           y0=max(a, p['yr'][0]), y1=b,
                           fillcolor='rgba(0,0,0,0.11)', line=dict(width=0), layer='below'))
    xkey = 'xaxis' if i == 1 else 'xaxis%d' % i
    ykey = 'yaxis' if i == 1 else 'yaxis%d' % i
    layout_axes[xkey] = dict(domain=[fx(p['xd'][0]), fx(p['xd'][1])], anchor=ya, range=p['xr'],
                             tickmode='array', tickvals=p['ticks'], ticktext=[fmt(v) for v in p['ticks']],
                             tickangle=-90, ticks='inside', ticklen=5, tickcolor=AX, tickfont=TFONT,
                             showgrid=True, gridcolor=GRID, gridwidth=1, zeroline=False,
                             showline=True, linecolor=AX, linewidth=1, side='bottom', fixedrange=True)
    layout_axes[ykey] = dict(domain=[fy(p['yd'][1]), fy(p['yd'][0])], anchor=xa, range=p['yr'],
                             tickmode='array', tickvals=p['years'], ticktext=[str(y) for y in p['years']],
                             tickangle=-90, ticks='inside', ticklen=5, tickcolor=AX, tickfont=TFONT,
                             showgrid=True, gridcolor=GRID, gridwidth=1, zeroline=False,
                             showline=True, linecolor=AX, linewidth=1, side='right', fixedrange=True)
    annotations.append(dict(text=CAPTIONS[p['k']], x=fx(p['capx']), y=fy(p['capy']), xref='paper', yref='paper',
                            showarrow=False, textangle=-90, xanchor='center', yanchor='middle',
                            font=dict(family='Liberation Serif', size=22, color='#111111')))

fig.update_layout(width=W, height=H, margin=dict(l=0, r=0, t=0, b=0), paper_bgcolor='white',
                  plot_bgcolor='white', showlegend=False, shapes=shapes, annotations=annotations, **layout_axes)
fig.write_html("out.html")
